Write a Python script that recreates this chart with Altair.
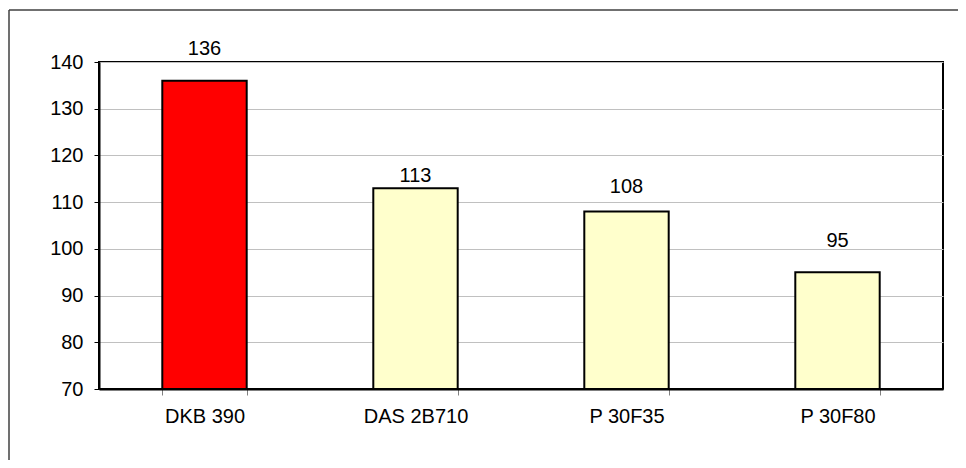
import altair as alt
import pandas as pd

categories = ["DKB 390", "DAS 2B710", "P 30F35", "P 30F80"]
values = [136, 113, 108, 95]
bar_colors = ["#FF0000", "#FFFFCC", "#FFFFCC", "#FFFFCC"]
y_ticks = [70, 80, 90, 100, 110, 120, 130, 140]
# pixel gap of each value label above its bar (style, as placed in the original)
label_gaps = [-26, -6, -18, -25]

df = pd.DataFrame({"cat": categories, "val": values, "col": bar_colors})

FONT = "Liberation Sans"
FS = 20

x_enc = alt.X("cat:N", sort=categories, title=None,
              scale=alt.Scale(paddingInner=0.6, paddingOuter=0.3),
              axis=alt.Axis(labelAngle=0, labelFontSize=FS, labelFont=FONT, labelColor="black",
                            tickBand="extent", tickSize=6, tickColor="#808080",
                            labelPadding=11, domainColor="black", domainWidth=2, grid=False))
y_enc = alt.Y("val:Q", title=None,
              scale=alt.Scale(domain=[70, 140], nice=False, zero=False),
              axis=alt.Axis(values=y_ticks, labelFontSize=FS, labelFont=FONT, labelColor="black",
                            tickSize=5, tickColor="black", labelPadding=11,
                            domainColor="black", domainWidth=2,
                            grid=True, gridColor="#C0C0C0", gridWidth=1))

base = alt.Chart(df)

bars = base.mark_bar(stroke="black", strokeWidth=2).encode(
    x=x_enc, y=y_enc, y2=alt.datum(70),
    color=alt.Color("col:N", scale=None),
)

label_layers = []
for cat, gap in zip(categories, label_gaps):
    label_layers.append(
        base.transform_filter(alt.datum.cat == cat)
        .mark_text(baseline="alphabetic", dy=gap, fontSize=FS, font=FONT, color="black")
        .encode(
            x=alt.X("cat:N", sort=categories),
            y=alt.Y("val:Q"),
            text=alt.Text("val:Q"),
        )
    )

one = pd.DataFrame({"a": [0]})
frame_top = alt.Chart(one).mark_rule(stroke="#404040", strokeWidth=1.5).encode(
    x=alt.value(-90), x2=alt.value(1000), y=alt.value(-52)
)
frame_left = alt.Chart(one).mark_rule(stroke="#404040", strokeWidth=1.5).encode(
    x=alt.value(-90), y=alt.value(-52), y2=alt.value(500)
)

chart = alt.layer(frame_top, frame_left, bars, *label_layers).properties(
    width=844, height=327,
    autosize=alt.AutoSizeParams(type="none"),
    padding={"left": 91, "top": 54, "right": 15, "bottom": 71},
    background="white",
).configure_view(stroke="black", strokeWidth=2)

chart.save("out.html", embed_options={"renderer": "svg", "actions": False})
